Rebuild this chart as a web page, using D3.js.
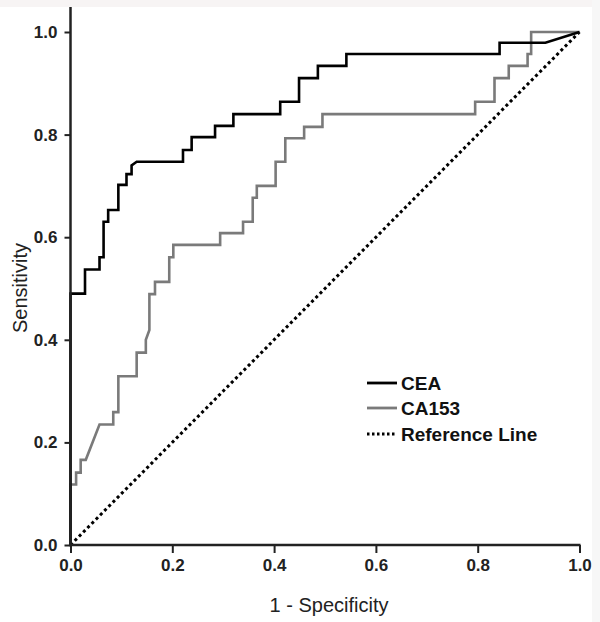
<!DOCTYPE html>
<html><head><meta charset="utf-8">
<script src="https://cdn.jsdelivr.net/npm/d3@7"></script>
<style>body{margin:0;background:#fff}svg{display:block}text{font-family:Arial,"Liberation Sans",sans-serif}</style>
</head><body><div id="c"></div>
<script>
const ceaFPR = [0,0,0.0285,0.0285,0.057,0.057,0.065,0.065,0.074,0.074,0.094,0.094,0.110,0.110,0.120,0.120,0.130,0.221,0.221,0.238,0.238,0.284,0.284,0.320,0.320,0.412,0.412,0.449,0.449,0.486,0.486,0.542,0.542,0.843,0.843,0.933,1];
const ceaTPR = [0,0.49,0.49,0.537,0.537,0.561,0.561,0.630,0.630,0.653,0.653,0.702,0.702,0.723,0.723,0.740,0.747,0.747,0.770,0.770,0.795,0.795,0.817,0.817,0.840,0.840,0.864,0.864,0.910,0.910,0.934,0.934,0.957,0.957,0.979,0.979,1];
const caFPR = [0,0,0.011,0.011,0.020,0.020,0.030,0.057,0.084,0.084,0.094,0.094,0.130,0.130,0.148,0.148,0.155,0.155,0.166,0.166,0.194,0.194,0.202,0.202,0.294,0.294,0.339,0.339,0.358,0.358,0.366,0.366,0.403,0.403,0.422,0.422,0.459,0.459,0.495,0.495,0.795,0.795,0.833,0.833,0.861,0.861,0.898,0.898,0.905,0.905,1];
const caTPR = [0,0.118,0.118,0.141,0.141,0.166,0.166,0.235,0.235,0.259,0.259,0.329,0.329,0.375,0.375,0.400,0.419,0.489,0.489,0.513,0.513,0.561,0.561,0.585,0.585,0.608,0.608,0.630,0.630,0.677,0.677,0.700,0.700,0.747,0.747,0.793,0.793,0.815,0.815,0.840,0.840,0.864,0.864,0.910,0.910,0.934,0.934,0.957,0.957,1,1];
const refX = [0,1];
const refY = [0,1];
const tickValues = [0,0.2,0.4,0.6,0.8,1.0];
const seriesNames = ["CEA","CA153","Reference Line"];
const xTitle = "1 - Specificity";
const yTitle = "Sensitivity";

const W=600,H=622;
const svg=d3.select("#c").append("svg").attr("width",W).attr("height",H);
svg.append("rect").attr("x",0).attr("y",0).attr("width",W).attr("height",7).attr("fill","#f7f4f4");
svg.append("rect").attr("x",592).attr("y",0).attr("width",8).attr("height",H).attr("fill","#f7f7f7");

const x=d3.scaleLinear().domain([0,1]).range([70.5,579.5]);
const y=d3.scaleLinear().domain([0,1]).range([545,32]);

const line=d3.line().x(d=>x(d[0])).y(d=>y(d[1]));
const ref=refX.map((v,i)=>[v,refY[i]]);
const ca=caFPR.map((v,i)=>[v,caTPR[i]]);
const cea=ceaFPR.map((v,i)=>[v,ceaTPR[i]]);

svg.append("path").attr("d",line(ref)).attr("fill","none").attr("stroke","#000").attr("stroke-width",3).attr("stroke-dasharray","3,3");
svg.append("path").attr("d",line(ca)).attr("fill","none").attr("stroke","#7a7a7a").attr("stroke-width",2.6).attr("stroke-linejoin","miter");
svg.append("path").attr("d",line(cea)).attr("fill","none").attr("stroke","#000").attr("stroke-width",2.6).attr("stroke-linejoin","miter");

// axes
const fmt=d3.format(".1f");
const xa=svg.append("g").attr("transform","translate(0,545)").call(d3.axisBottom(x).tickValues(tickValues).tickFormat(fmt).tickSize(8).tickPadding(6));
const ya=svg.append("g").attr("transform","translate(70.5,0)").call(d3.axisLeft(y).tickValues(tickValues).tickFormat(fmt).tickSize(6).tickPadding(7));
[xa,ya].forEach(g=>{
  g.select(".domain").remove();
  g.selectAll("line").attr("stroke","#222").attr("stroke-width",2);
  g.selectAll("text").attr("font-size",17).attr("font-weight","bold").attr("fill","#222");
});
svg.append("line").attr("x1",70.5).attr("x2",70.5).attr("y1",7).attr("y2",546).attr("stroke","#222").attr("stroke-width",2.5);
svg.append("line").attr("x1",69).attr("x2",x(1)+1).attr("y1",545).attr("y2",545).attr("stroke","#222").attr("stroke-width",2.5);

svg.append("text").attr("x",x(0.5)+4).attr("y",612).attr("text-anchor","middle").attr("font-size",20).attr("fill","#222").text(xTitle);
svg.append("text").attr("transform","translate(27,288) rotate(-90)").attr("text-anchor","middle").attr("font-size",20).attr("fill","#222").text(yTitle);

// legend
const lg=svg.append("g");
const ly=[383,408,434];
const lstyles=[{c:"#000",d:null},{c:"#7a7a7a",d:null},{c:"#000",d:"2.5,2.5"}];
seriesNames.forEach((n,i)=>{
  lg.append("line").attr("x1",367).attr("x2",397).attr("y1",ly[i]).attr("y2",ly[i]).attr("stroke",lstyles[i].c).attr("stroke-width",2.8).attr("stroke-dasharray",lstyles[i].d);
  lg.append("text").attr("x",401).attr("y",ly[i]).attr("dy","0.36em").attr("font-size",19).attr("font-weight","bold").attr("fill","#111").text(n);
});
</script></body></html>
